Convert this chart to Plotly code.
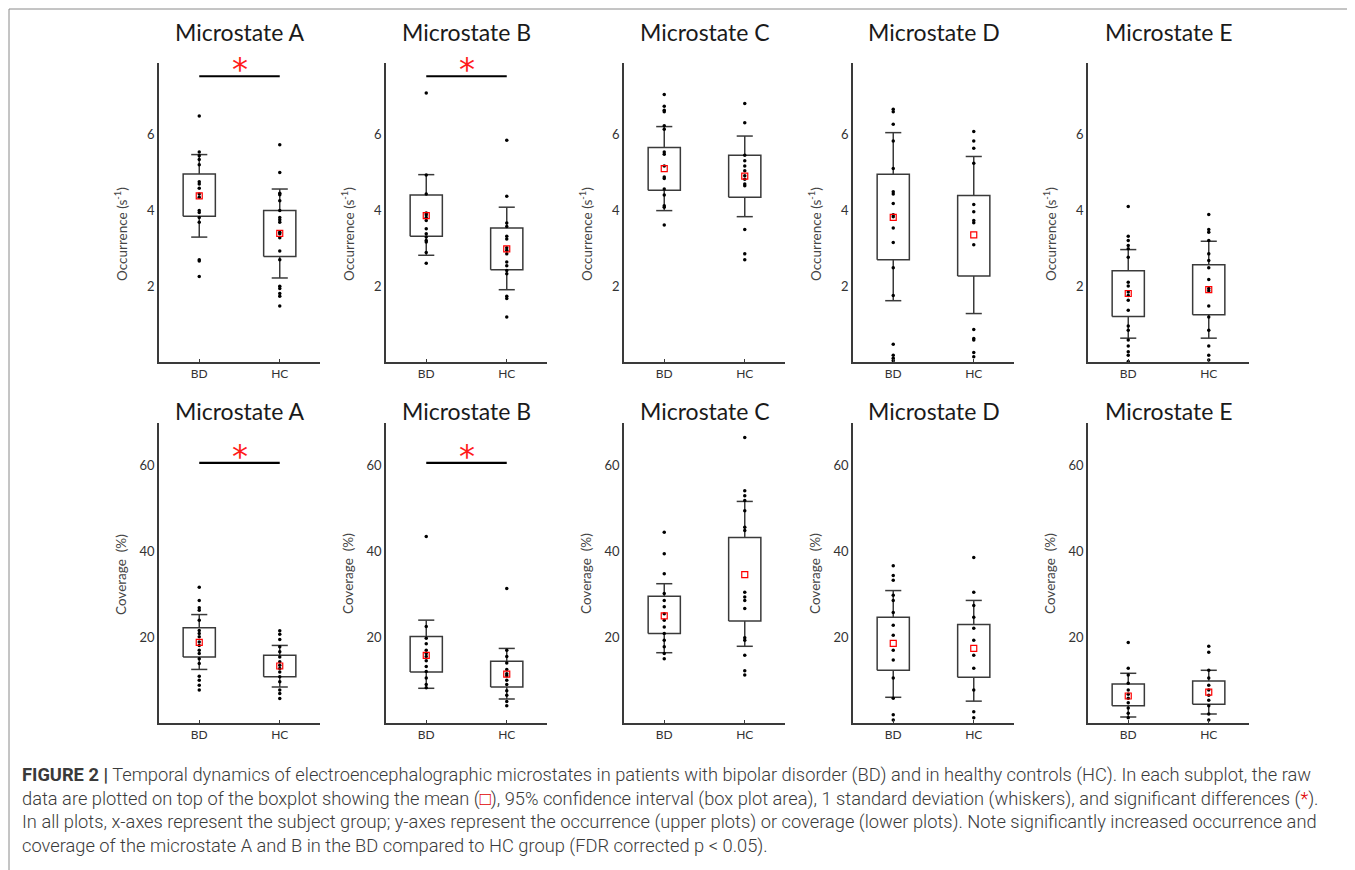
import plotly.graph_objects as go

# ---------------- data ----------------
microstates = ["A", "B", "C", "D", "E"]
groups = ["BD", "HC"]
occ_ticks = [2, 4, 6]
cov_ticks = [20, 40, 60]

# Occurrence (s^-1): 95% CI box, SD whiskers, mean
occ_ci_lo_bd = [3.85, 3.32, 4.54, 2.70, 1.20]
occ_ci_hi_bd = [4.97, 4.41, 5.67, 4.96, 2.41]
occ_sd_lo_bd = [3.30, 2.82, 4.00, 1.62, 0.63]
occ_sd_hi_bd = [5.48, 4.95, 6.22, 6.06, 2.97]
occ_mean_bd = [4.39, 3.87, 5.11, 3.82, 1.81]
occ_ci_lo_hc = [2.79, 2.44, 4.35, 2.27, 1.25]
occ_ci_hi_hc = [4.00, 3.54, 5.46, 4.40, 2.57]
occ_sd_lo_hc = [2.22, 1.91, 3.84, 1.28, 0.63]
occ_sd_hi_hc = [4.57, 4.09, 5.97, 5.43, 3.19]
occ_mean_hc = [3.40, 2.99, 4.91, 3.36, 1.91]

occ_points_bd = [
    [6.50, 5.55, 5.45, 5.35, 5.21, 4.76, 4.70, 4.59, 4.44, 4.35, 4.00, 3.95, 3.82, 3.69, 2.70, 2.67, 2.26],
    [7.11, 4.94, 4.44, 3.94, 3.89, 3.82, 3.74, 3.52, 3.39, 3.30, 3.21, 3.17, 2.89, 2.61],
    [7.07, 6.76, 6.65, 6.61, 6.24, 6.15, 5.55, 5.49, 5.18, 4.89, 4.85, 4.57, 4.41, 4.13, 4.09, 3.62],
    [6.68, 6.61, 6.28, 5.84, 5.11, 4.50, 4.44, 4.19, 3.89, 3.84, 3.54, 3.16, 2.49, 1.76, 0.47, 0.18, 0.10, 0.04],
    [4.11, 3.32, 3.21, 3.08, 2.99, 2.77, 2.11, 2.01, 1.85, 1.76, 1.63, 1.37, 0.95, 0.84, 0.58, 0.42, 0.27, 0.18, 0.01],
]
occ_points_hc = [
    [5.74, 5.01, 4.46, 4.42, 4.26, 4.00, 3.82, 3.76, 3.69, 3.43, 3.39, 3.28, 2.93, 2.70, 2.00, 1.94, 1.81, 1.74, 1.48],
    [5.86, 4.38, 3.67, 3.58, 3.32, 3.25, 3.02, 2.95, 2.86, 2.64, 2.54, 2.42, 2.33, 1.74, 1.68, 1.19],
    [6.83, 6.32, 5.46, 5.32, 5.18, 5.05, 4.92, 4.83, 4.70, 4.66, 3.50, 2.86, 2.70],
    [6.09, 5.84, 5.65, 5.25, 4.16, 3.97, 3.74, 3.68, 3.10, 0.86, 0.62, 0.58, 0.25, 0.14],
    [3.90, 3.50, 3.43, 3.21, 2.86, 2.68, 2.49, 2.18, 1.94, 1.88, 1.48, 1.19, 0.84, 0.42, 0.18, 0.05],
]

# Coverage (%)
cov_ci_lo_bd = [15.4, 11.9, 20.9, 12.3, 4.0]
cov_ci_hi_bd = [22.2, 20.2, 29.6, 24.7, 9.1]
cov_sd_lo_bd = [12.5, 8.1, 16.4, 6.0, 1.4]
cov_sd_hi_bd = [25.3, 24.0, 32.5, 30.9, 11.6]
cov_mean_bd = [18.8, 15.8, 25.0, 18.6, 6.3]
cov_ci_lo_hc = [10.8, 8.4, 23.8, 10.7, 4.4]
cov_ci_hi_hc = [15.8, 14.4, 43.3, 23.0, 9.8]
cov_sd_lo_hc = [8.4, 5.6, 17.9, 5.1, 2.1]
cov_sd_hi_hc = [18.1, 17.4, 51.7, 28.6, 12.3]
cov_mean_hc = [13.3, 11.4, 34.6, 17.4, 7.2]

cov_points_bd = [
    [31.7, 28.6, 26.9, 26.3, 24.0, 21.6, 20.9, 20.1, 18.9, 18.1, 17.0, 16.2, 15.0, 13.9, 10.9, 10.0, 8.8, 7.7],
    [43.5, 22.5, 19.8, 18.5, 17.0, 16.2, 15.5, 14.5, 13.2, 12.0, 10.5, 9.0, 8.2],
    [44.5, 39.5, 34.8, 30.2, 28.6, 27.1, 25.5, 24.0, 22.4, 20.9, 19.3, 17.8, 16.2, 15.0],
    [36.7, 34.4, 33.3, 29.8, 28.6, 25.8, 22.8, 20.5, 17.0, 14.7, 10.5, 5.8, 1.9, 0.7],
    [18.8, 12.8, 11.2, 9.3, 7.7, 6.7, 5.8, 4.7, 3.5, 2.3, 1.2],
]
cov_points_hc = [
    [21.5, 20.7, 19.5, 17.8, 16.6, 15.4, 14.3, 13.5, 12.7, 11.9, 10.8, 9.6, 7.7, 6.9, 5.7],
    [31.4, 17.0, 15.5, 14.0, 12.5, 11.5, 11.0, 10.0, 9.0, 7.5, 6.5, 5.0, 4.0],
    [66.6, 54.2, 53.0, 51.9, 49.5, 45.7, 44.9, 30.5, 29.4, 28.6, 26.7, 19.9, 19.3, 15.8, 12.2, 11.2],
    [38.6, 30.5, 27.4, 24.7, 22.1, 19.3, 15.8, 12.8, 7.7, 2.6, 1.2],
    [17.9, 16.5, 12.3, 10.5, 8.8, 7.7, 6.5, 5.3, 4.0, 2.1, 0.7],
]

sig_occ = [True, True, False, False, False]
sig_cov = [True, True, False, False, False]
sig_level_occ = 7.55
sig_level_cov = 60.7

# ---------------- layout constants ----------------
W, H = 1355, 870
OFF = 8  # page body margin compensation
panel_left_px = [159, 386, 624, 853, 1088]
panel_w_px = 161
rows_px = [(63, 362), (423, 723)]
title_y_px = [32, 411]
ytitle_y_px = [234, 574]
yranges = [[0, 7.9], [0, 70]]
box_half = 0.2
cap_half = 0.1
axis_color = "#3a3a3a"
font_fam = "Lato, Open Sans, sans-serif"

fig = go.Figure()
layout = {}
annotations = []


def px2x(p):
    return (p - OFF) / W


def px2y(p):
    return 1 - (p - OFF) / H


rows = [
    dict(ci_lo=[occ_ci_lo_bd, occ_ci_lo_hc], ci_hi=[occ_ci_hi_bd, occ_ci_hi_hc],
         sd_lo=[occ_sd_lo_bd, occ_sd_lo_hc], sd_hi=[occ_sd_hi_bd, occ_sd_hi_hc],
         mean=[occ_mean_bd, occ_mean_hc], pts=[occ_points_bd, occ_points_hc],
         sig=sig_occ, sig_level=sig_level_occ, ticks=occ_ticks,
         ytitle="Occurrence (s<sup>-1</sup>)"),
    dict(ci_lo=[cov_ci_lo_bd, cov_ci_lo_hc], ci_hi=[cov_ci_hi_bd, cov_ci_hi_hc],
         sd_lo=[cov_sd_lo_bd, cov_sd_lo_hc], sd_hi=[cov_sd_hi_bd, cov_sd_hi_hc],
         mean=[cov_mean_bd, cov_mean_hc], pts=[cov_points_bd, cov_points_hc],
         sig=sig_cov, sig_level=sig_level_cov, ticks=cov_ticks,
         ytitle="Coverage  (%)"),
]

k = 0
for r, row in enumerate(rows):
    top_px, bot_px = rows_px[r]
    for i, ms in enumerate(microstates):
        k += 1
        xa = "x" if k == 1 else f"x{k}"
        ya = "y" if k == 1 else f"y{k}"
        xd = [px2x(panel_left_px[i]), px2x(panel_left_px[i] + panel_w_px)]
        yd = [px2y(bot_px), px2y(top_px)]
        layout["xaxis" if k == 1 else f"xaxis{k}"] = dict(
            domain=xd, anchor=ya, range=[0.5, 2.5], tickvals=[1, 2], ticktext=groups,
            showline=True, linecolor=axis_color, linewidth=1.5, showgrid=False, zeroline=False,
            ticks="inside", ticklen=3, tickcolor=axis_color, tickwidth=1,
            tickfont=dict(family=font_fam, size=12, color="#333"), fixedrange=True)
        layout["yaxis" if k == 1 else f"yaxis{k}"] = dict(
            domain=yd, anchor=xa, range=yranges[r], tickvals=row["ticks"],
            showline=True, linecolor=axis_color, linewidth=1.5, showgrid=False, zeroline=False,
            ticks="", tickfont=dict(family=font_fam, size=13, color="#333"), fixedrange=True)

        for g in range(2):
            xc = g + 1
            lo = row["ci_lo"][g][i]
            hi = row["ci_hi"][g][i]
            slo = row["sd_lo"][g][i]
            shi = row["sd_hi"][g][i]
            # box (95% CI)
            fig.add_trace(go.Scatter(
                x=[xc - box_half, xc + box_half, xc + box_half, xc - box_half, xc - box_half],
                y=[lo, lo, hi, hi, lo], mode="lines",
                line=dict(color=axis_color, width=1.5), xaxis=xa, yaxis=ya,
                showlegend=False, hoverinfo="skip"))
            # whiskers (1 SD) with caps
            fig.add_trace(go.Scatter(
                x=[xc, xc, None, xc, xc, None,
                   xc - cap_half, xc + cap_half, None, xc - cap_half, xc + cap_half],
                y=[hi, shi, None, lo, slo, None, shi, shi, None, slo, slo],
                mode="lines", line=dict(color=axis_color, width=1.5),
                xaxis=xa, yaxis=ya, showlegend=False, hoverinfo="skip"))
            # raw data
            pts = row["pts"][g][i]
            fig.add_trace(go.Scatter(
                x=[xc] * len(pts), y=pts, mode="markers",
                marker=dict(color="black", size=3.5, symbol="circle"),
                xaxis=xa, yaxis=ya, showlegend=False))
            # mean
            fig.add_trace(go.Scatter(
                x=[xc], y=[row["mean"][g][i]], mode="markers",
                marker=dict(color="red", size=6, symbol="square-open", line=dict(width=1.2, color="red")),
                xaxis=xa, yaxis=ya, showlegend=False))

        if row["sig"][i]:
            fig.add_trace(go.Scatter(
                x=[1, 2], y=[row["sig_level"]] * 2, mode="lines",
                line=dict(color="black", width=2.2), xaxis=xa, yaxis=ya,
                showlegend=False, hoverinfo="skip"))
            annotations.append(dict(
                x=1.5, y=row["sig_level"], xref=xa, yref=ya, text="*", showarrow=False,
                yanchor="bottom", yshift=-14, font=dict(family="DejaVu Sans", size=32, color="#ff1a1a")))

        # panel title
        annotations.append(dict(
            x=px2x(panel_left_px[i] + panel_w_px / 2), y=px2y(title_y_px[r]), xref="paper", yref="paper",
            text=f"Microstate {ms}", showarrow=False, xanchor="center", yanchor="middle",
            font=dict(family=font_fam, size=23, color="#1a1a1a")))
        # y title
        annotations.append(dict(
            x=px2x(panel_left_px[i] - 38), y=px2y(ytitle_y_px[r]), xref="paper", yref="paper",
            text=row["ytitle"], showarrow=False, textangle=-90, xanchor="center", yanchor="middle",
            font=dict(family=font_fam, size=13.5, color="#444")))

# caption
caption_lines = [
    "<b>FIGURE 2 |</b> Temporal dynamics of electroencephalographic microstates in patients with bipolar disorder (BD) and in healthy controls (HC). In each subplot, the raw",
    "data are plotted on top of the boxplot showing the mean (<span style='color:#e00000'><b>□</b></span>), 95% confidence interval (box plot area), 1 standard deviation (whiskers), and significant differences (<span style='color:#e00000'>*</span>).",
    "In all plots, x-axes represent the subject group; y-axes represent the occurrence (upper plots) or coverage (lower plots). Note significantly increased occurrence and",
    "coverage of the microstate A and B in the BD compared to HC group (FDR corrected p &lt; 0.05).",
]
caption_y_px = [775, 799, 822, 846]
for line, yp in zip(caption_lines, caption_y_px):
    annotations.append(dict(
        x=px2x(20), y=px2y(yp), xref="paper", yref="paper", text=line, showarrow=False,
        xanchor="left", yanchor="middle", align="left",
        font=dict(family="Roboto, Liberation Sans, Arial, sans-serif", size=18.3, color="#3a3a3a", weight=300)))

layout["shapes"] = [dict(type="rect", xref="paper", yref="paper",
                         x0=px2x(9), x1=px2x(1353), y0=px2y(890), y1=px2y(9),
                         line=dict(color="#8a8a8a", width=1), fillcolor="rgba(0,0,0,0)")]
layout["annotations"] = annotations
fig.update_layout(**layout)
fig.update_layout(width=W, height=H, margin=dict(l=0, r=0, t=0, b=0),
                  paper_bgcolor="white", plot_bgcolor="white", showlegend=False)
fig.write_html("out.html")
